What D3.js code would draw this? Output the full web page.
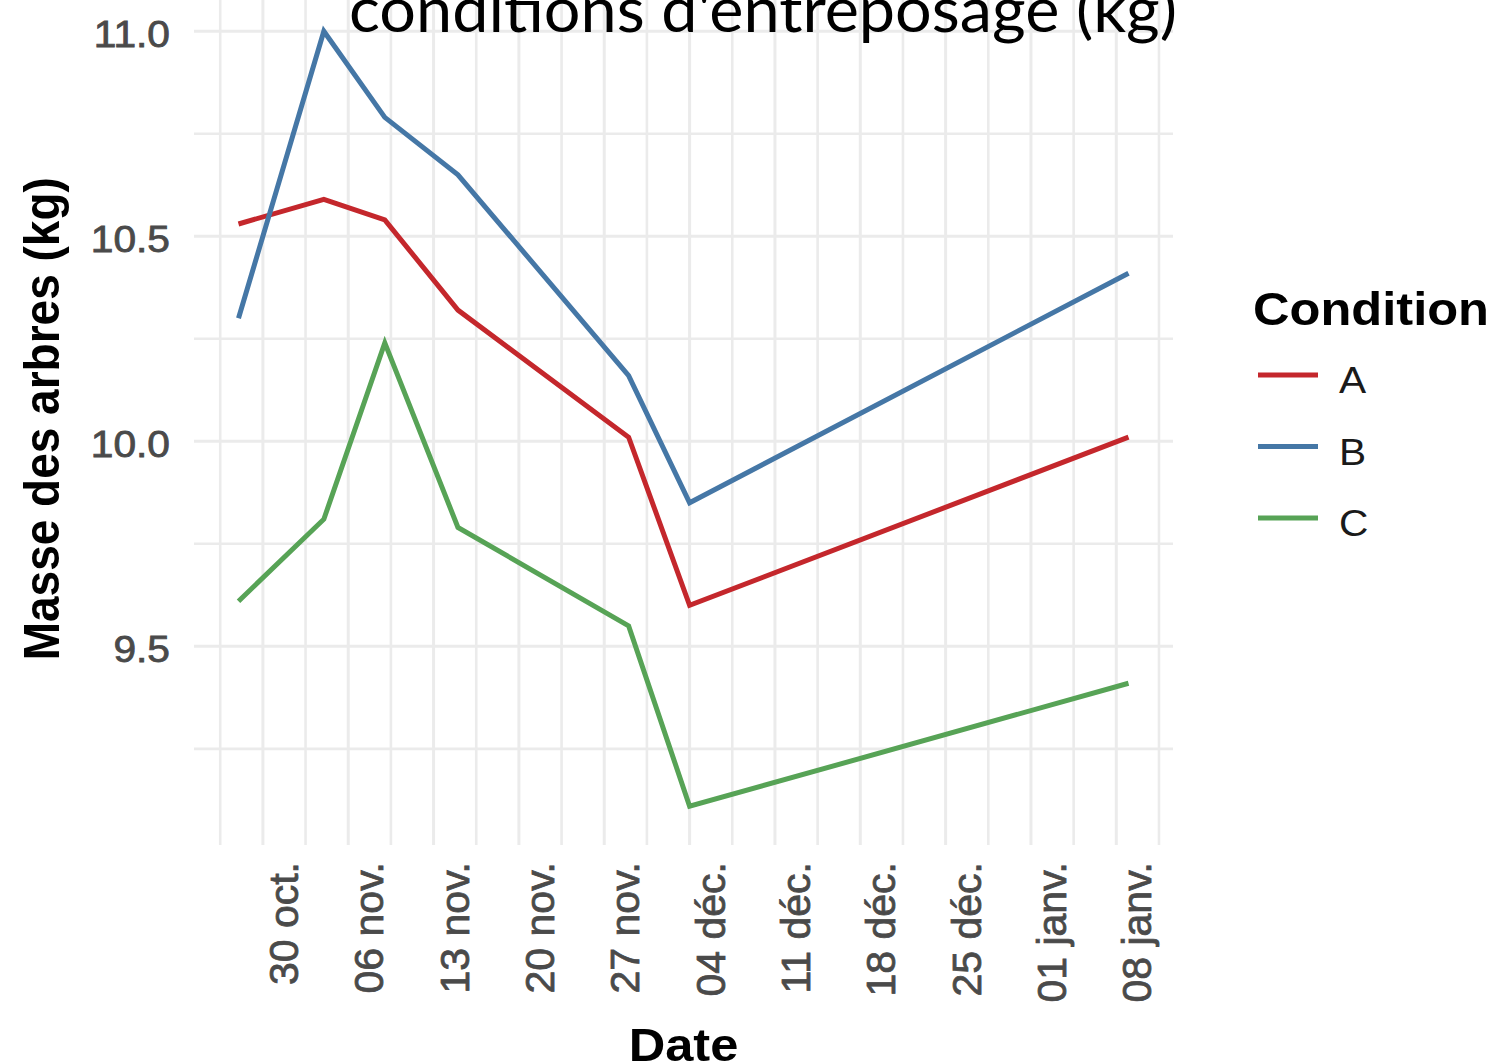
<!DOCTYPE html>
<html>
<head>
<meta charset="utf-8">
<script src="https://cdn.jsdelivr.net/npm/d3@7"></script>
<style>
  html, body { margin: 0; padding: 0; background: #fff; overflow: hidden; }
  svg { display: block; }
</style>
</head>
<body>
<svg id="chart" width="1494" height="1064"></svg>
<script>
// ---- data ----
const dates = ["2023-10-28", "2023-11-04", "2023-11-09", "2023-11-15", "2023-11-29", "2023-12-04", "2024-01-09"];
const conditions = ["A", "B", "C"];
const massA = [10.53, 10.59, 10.54, 10.32, 10.01, 9.60, 10.01];
const massB = [10.30, 11.00, 10.79, 10.65, 10.16, 9.85, 10.41];
const massC = [9.61, 9.81, 10.24, 9.79, 9.55, 9.11, 9.41];
const colors = ["#c4272c", "#4577a6", "#57a356"];
const xTickDates = ["2023-10-30", "2023-11-06", "2023-11-13", "2023-11-20", "2023-11-27", "2023-12-04", "2023-12-11", "2023-12-18", "2023-12-25", "2024-01-01", "2024-01-08"];
const xTickLabels = ["30 oct.", "06 nov.", "13 nov.", "20 nov.", "27 nov.", "04 déc.", "11 déc.", "18 déc.", "25 déc.", "01 janv.", "08 janv."];
const yTicks = [9.5, 10.0, 10.5, 11.0];
const yTickLabels = ["9.5", "10.0", "10.5", "11.0"];
const yMinor = [9.25, 9.75, 10.25, 10.75];
const titleText = "conditions d'entreposage (kg)";
const xTitle = "Date";
const yTitle = "Masse des arbres (kg)";
const legendTitle = "Condition";

// ---- layout ----
const parse = d3.utcParse("%Y-%m-%d");
const dts = dates.map(parse);
const series = [massA, massB, massC].map((vals, i) => ({
  name: conditions[i], color: colors[i],
  values: vals.map((v, j) => ({ date: dts[j], value: v }))
}));

const panel = { left: 194, right: 1173, top: -7.5, bottom: 845 };
const xExt = d3.extent(dts);
const xPad = (xExt[1] - xExt[0]) * 0.05;
const x = d3.scaleUtc()
  .domain([new Date(+xExt[0] - xPad), new Date(+xExt[1] + xPad)])
  .range([panel.left, panel.right]);
const allVals = [].concat(massA, massB, massC);
const yExt = d3.extent(allVals);
const yPad = (yExt[1] - yExt[0]) * 0.05;
const y = d3.scaleLinear()
  .domain([yExt[0] - yPad, yExt[1] + yPad])
  .range([panel.bottom, panel.top]);

const svg = d3.select("#chart");
const SX = 1.1; // horizontal text stretch of the reference

// grid
const grid = svg.append("g");
const tickD = xTickDates.map(parse);
const half = 3.5 * 864e5;
const xMinor = tickD.map(d => new Date(+d - half)).concat([new Date(+tickD[tickD.length - 1] + half)])
  .filter(d => d >= x.domain()[0] && d <= x.domain()[1]);

grid.selectAll(".hminor").data(yMinor).join("line")
  .attr("x1", panel.left).attr("x2", panel.right)
  .attr("y1", d => y(d)).attr("y2", d => y(d))
  .attr("stroke", "#ebebeb").attr("stroke-width", 2.6);
grid.selectAll(".vminor").data(xMinor).join("line")
  .attr("x1", d => x(d)).attr("x2", d => x(d))
  .attr("y1", panel.top).attr("y2", panel.bottom)
  .attr("stroke", "#ebebeb").attr("stroke-width", 2.6);
grid.selectAll(".hmajor").data(yTicks).join("line")
  .attr("x1", panel.left).attr("x2", panel.right)
  .attr("y1", d => y(d)).attr("y2", d => y(d))
  .attr("stroke", "#ebebeb").attr("stroke-width", 3);
grid.selectAll(".vmajor").data(tickD).join("line")
  .attr("x1", d => x(d)).attr("x2", d => x(d))
  .attr("y1", panel.top).attr("y2", panel.bottom)
  .attr("stroke", "#ebebeb").attr("stroke-width", 3);

// lines
const line = d3.line().x(d => x(d.date)).y(d => y(d.value));
svg.append("g").selectAll("path").data(series).join("path")
  .attr("d", d => line(d.values))
  .attr("fill", "none")
  .attr("stroke", d => d.color)
  .attr("stroke-width", 5)
  .attr("stroke-linejoin", "miter")
  .attr("stroke-linecap", "butt");

// y tick labels
svg.append("g").selectAll("g").data(yTicks).join("g")
  .attr("transform", d => `translate(170,${y(d) + 3}) scale(${SX},1)`)
  .append("text")
  .attr("text-anchor", "end")
  .attr("dominant-baseline", "central")
  .attr("font-family", "Liberation Sans, Arial, sans-serif")
  .attr("font-size", 37)
  .attr("fill", "#4a4a4a")
  .attr("stroke", "#4a4a4a").attr("stroke-width", 0.8)
  .text((d, i) => yTickLabels[i]);

// x tick labels
svg.append("g").selectAll("g").data(tickD).join("g")
  .attr("transform", d => `translate(${x(d) + 35},862) rotate(-90)`)
  .append("text")
  .attr("text-anchor", "end")
  .attr("font-family", "Liberation Sans, Arial, sans-serif")
  .attr("font-size", 41)
  .attr("fill", "#4a4a4a")
  .attr("stroke", "#4a4a4a").attr("stroke-width", 0.8)
  .text((d, i) => xTickLabels[i]);

// axis titles
svg.append("g")
  .attr("transform", `translate(${(panel.left + panel.right) / 2},1061) scale(${SX},1)`)
  .append("text")
  .attr("text-anchor", "middle")
  .attr("font-family", "Liberation Sans, Arial, sans-serif")
  .attr("font-weight", "bold").attr("font-size", 46).attr("fill", "#000")
  .text(xTitle);

svg.append("g")
  .attr("transform", `translate(59,${(panel.top + panel.bottom) / 2}) scale(${SX},1) rotate(-90)`)
  .append("text")
  .attr("text-anchor", "middle")
  .attr("font-family", "Liberation Sans, Arial, sans-serif")
  .attr("font-weight", "bold").attr("font-size", 46).attr("fill", "#000")
  .text(yTitle);

// legend
const lg = svg.append("g");
lg.append("g").attr("transform", `translate(1253,325) scale(${SX},1)`)
  .append("text")
  .attr("font-family", "Liberation Sans, Arial, sans-serif")
  .attr("font-weight", "bold").attr("font-size", 46).attr("fill", "#000")
  .text(legendTitle);
const legY = d3.scalePoint().domain(conditions).range([375, 518]);
const items = lg.selectAll(".item").data(series).join("g")
  .attr("transform", d => `translate(0,${legY(d.name)})`);
items.append("line")
  .attr("x1", 1258).attr("x2", 1318).attr("y1", 0).attr("y2", 0)
  .attr("stroke", d => d.color).attr("stroke-width", 5);
items.append("g").attr("transform", `translate(1339,18) scale(${SX},1)`)
  .append("text")
  .attr("font-family", "Liberation Sans, Arial, sans-serif")
  .attr("font-size", 37).attr("fill", "#1a1a1a")
  .text(d => d.name);

// title (partially cut at the top)
svg.append("text")
  .attr("x", 349).attr("y", 32)
  .attr("textLength", 828).attr("lengthAdjust", "spacingAndGlyphs")
  .attr("font-family", "Lato, 'Open Sans', sans-serif")
  .attr("font-size", 62).attr("fill", "#000")
  .text(titleText);
</script>
</body>
</html>
